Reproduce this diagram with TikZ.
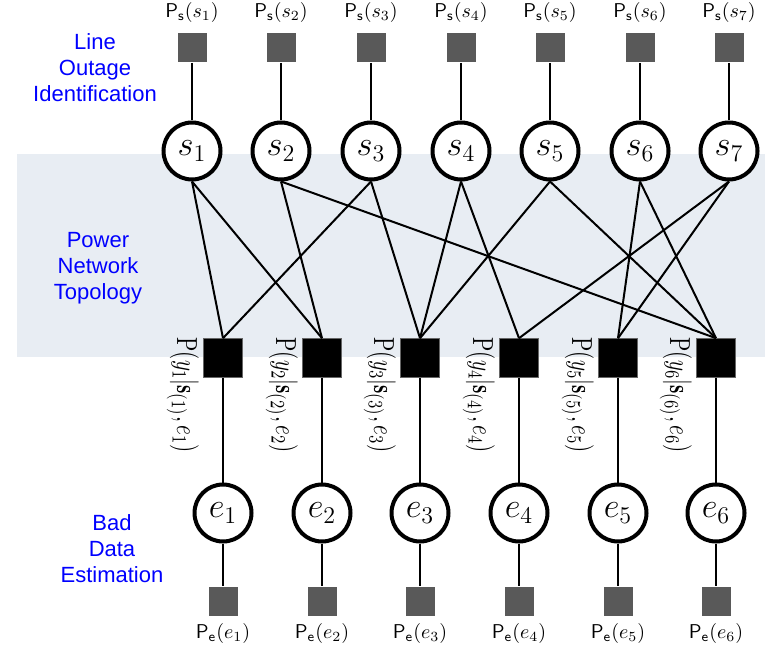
\documentclass[tikz,border=0pt]{standalone}
\usepackage{fontspec}
\newfontfamily\blab{Liberation Sans}
\definecolor{bandcol}{RGB}{232,237,243}
\definecolor{priorcol}{RGB}{89,89,89}
\begin{document}
\begin{tikzpicture}[x=0.5pt,y=-0.5pt,
  var/.style={circle,draw,line width=2pt,fill=white,minimum size=28.5pt,inner sep=0pt,font=\fontsize{18}{20}\selectfont},
  prior/.style={rectangle,fill=priorcol,minimum size=14.5pt,inner sep=0pt},
  fac/.style={rectangle,fill=black,draw=black!60,line width=0.3pt,minimum size=19.5pt,inner sep=0pt},
  edge/.style={line width=1pt},
  side/.style={text=blue,align=center,font=\blab\fontsize{11}{13}\selectfont},
  plab/.style={font=\fontsize{10}{12}\selectfont,inner sep=0pt},
]
\useasboundingbox (0,0) rectangle (765,646);
\fill[bandcol] (17,154) rectangle (765,357);

\foreach \i/\x in {1/192,2/281,3/371,4/461,5/550,6/640,7/729}{
  \node[prior] (ps\i) at (\x,48) {};
  \node[plab] (psl\i) at (\x,13) {$\mathsf{P}_{\mathsf{s}}(s_{\i})$};
  \node[var] (s\i) at (\x,151) {$s_{\i}$};
  \draw[edge] (ps\i.south) -- (s\i.north);
}

\foreach \i/\x in {1/223,2/322,3/420,4/519,5/618,6/716}{
  \node[fac] (f\i) at (\x,358) {};
  \node[var] (e\i) at (\x,513) {$e_{\i}$};
  \node[prior] (pe\i) at (\x,601) {};
  \node[plab] (pel\i) at (\x,633) {$\mathsf{P}_{\mathsf{e}}(e_{\i})$};
  \node[plab,rotate=-90,anchor=north west] (fl\i) at ([xshift=-2pt,yshift=0.5pt]f\i.north west) {\scalebox{1.05}[1.45]{$\mathrm{P}(y_{\i}|\mathbf{s}_{(\i)}, e_{\i})$}};
  \draw[edge] (f\i.south) -- (e\i.north);
  \draw[edge] (e\i.south) -- (pe\i.north);
}

\foreach \s/\f in {1/1,1/2,2/2,2/6,3/1,3/3,4/3,4/4,5/3,5/6,6/5,6/6,7/4,7/5}{
  \draw[edge] (s\s.south) -- (f\f.north);
}

\node[side] (l1) at (95,68) {Line\\Outage\\Identification};
\node[side] (l2) at (98,268) {Power\\Network\\Topology};
\node[side] (l3) at (112,549) {Bad\\Data\\Estimation};
\end{tikzpicture}
\end{document}
